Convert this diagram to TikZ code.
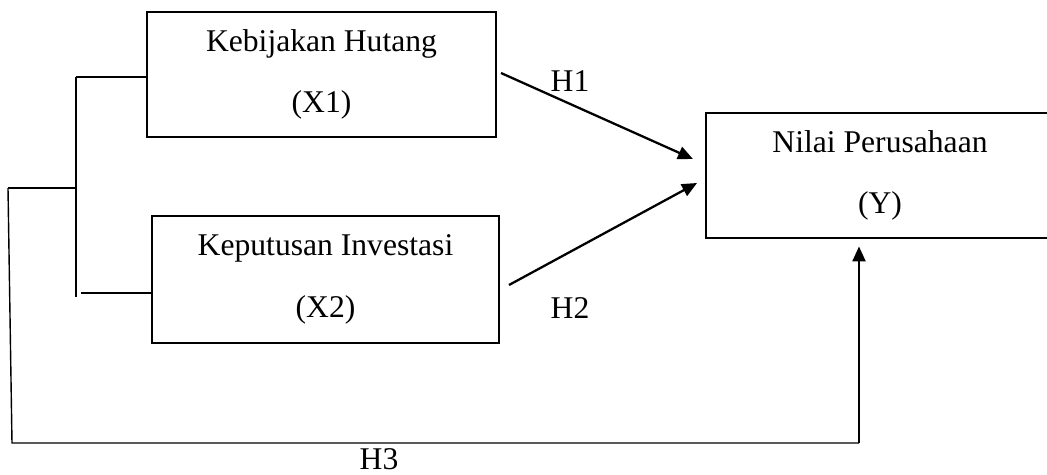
\documentclass[tikz,border=0pt]{standalone}
\usepackage{fontspec}
\setmainfont{Liberation Serif}
\usetikzlibrary{arrows.meta}

\begin{document}
\begin{tikzpicture}[
x=0.02cm, y=-0.02cm,
var/.style={draw, line width=1.6pt, align=center, inner sep=0pt, font=\fontsize{18}{35}\selectfont},
arr/.style={-{Triangle[length=3mm,width=2.6mm]}, line width=1.3pt},
link/.style={line width=0.8pt},
lbl/.style={font=\fontsize{18}{22}\selectfont}
]
\path[use as bounding box, clip] (0,0) rectangle (1047,474);

\node[var, minimum width=6.98cm, minimum height=2.5cm] (x1) at (321.5,74.5) {Kebijakan Hutang\\(X1)};
\node[var, minimum width=6.94cm, minimum height=2.54cm] (x2) at (325.5,279.5) {Keputusan Investasi\\(X2)};
\node[var, minimum width=6.96cm, minimum height=2.5cm] (y) at (880,175.5) {Nilai Perusahaan\\(Y)};

\node[lbl] (h1) at (570,81) {H1};
\node[lbl] (h2) at (570,308) {H2};
\node[lbl] (h3) at (379,459) {H3};

% bracket and joint path
\coordinate (b1) at (76,77);
\coordinate (b2) at (76,297);
\coordinate (b3) at (81,293);
\coordinate (bm) at (8,188);
\coordinate (o1) at (12,443);
\coordinate (o2) at (859,443);

\draw[link] (b1) -- (b2);
\draw[link] (b1) -- (b1 -| x1.west);
\draw[link] (b3) -- (b3 -| x2.west);
\draw[link] (bm) -- (bm -| b1);
\draw[link] (bm) -- (o1) -- (o2);
\draw[arr] (o2) -- ([yshift=-4]o2 |- y.south);

% partial effects
\coordinate (s1) at (501,73);
\coordinate (t1) at (693,159);
\coordinate (s2) at (509,285);
\coordinate (t2) at (697,183);
\draw[arr] (s1) -- (t1);
\draw[arr] (s2) -- (t2);
\end{tikzpicture}
\end{document}
